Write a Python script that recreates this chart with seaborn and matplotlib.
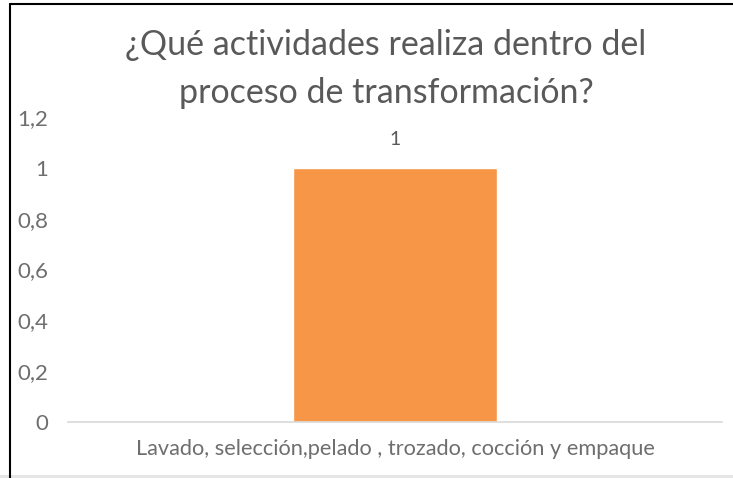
import matplotlib
matplotlib.use("Agg")
import matplotlib.pyplot as plt
import seaborn as sns
import pandas as pd
from matplotlib.patches import Rectangle
from matplotlib.lines import Line2D

categories = ["Lavado, selección,pelado , trozado, cocción y empaque"]
values = [1]
yticks = [0, 0.2, 0.4, 0.6, 0.8, 1, 1.2]
ytick_labels = ["0", "0,2", "0,4", "0,6", "0,8", "1", "1,2"]
title = "¿Qué actividades realiza dentro del\nproceso de transformación?"

sns.set_theme(style="white")
plt.rcParams["font.family"] = ["Lato", "DejaVu Sans"]

txt = "#595959"
tick_c = "#6e6e6e"
df = pd.DataFrame({"cat": categories, "val": values})

fig = plt.figure(figsize=(7.33, 4.78), dpi=100)
ax = fig.add_axes([68/733, 1-422/478, (722-68)/733, (422-117)/478])
sns.barplot(data=df, x="cat", y="val", color="#F79646", saturation=1, width=0.313, ax=ax)
ax.set_xlim(-0.5, 0.5)
ax.set_ylim(0, 1.2)
ax.set_yticks(yticks)
ax.set_yticklabels(ytick_labels)
ax.set_xlabel("")
ax.set_ylabel("")
for s in ["left", "right", "top"]:
    ax.spines[s].set_visible(False)
ax.spines["bottom"].set_color("#d9d9d9")
ax.spines["bottom"].set_linewidth(1.2)
ax.tick_params(axis="y", length=0, pad=14, labelsize=16, labelcolor=tick_c)
ax.tick_params(axis="x", length=0, pad=12, labelsize=15.7, labelcolor=tick_c)
ax.grid(False)

for c in ax.containers:
    ax.bar_label(c, labels=[str(v) for v in values], padding=14, fontsize=14, color=txt)

fig.text(386/733, 1-69/478, title, ha="center", va="center", fontsize=24.5,
         color=txt, linespacing=1.6)

# frame borders
fig.add_artist(Line2D([10/733, 10/733], [0, 1-4/478], transform=fig.transFigure, color="black", lw=1.5))
fig.add_artist(Line2D([10/733, 1], [1-4/478, 1-4/478], transform=fig.transFigure, color="black", lw=1.5))
fig.add_artist(Rectangle((0, 0), 1, 3/478, transform=fig.transFigure, color="#e6e6e6", lw=0))

fig.savefig("out.png", dpi=100)
